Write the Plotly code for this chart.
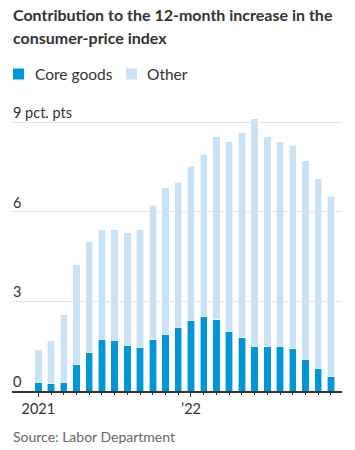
import plotly.graph_objects as go

months = ["2021-01","2021-02","2021-03","2021-04","2021-05","2021-06","2021-07","2021-08",
          "2021-09","2021-10","2021-11","2021-12","2022-01","2022-02","2022-03","2022-04",
          "2022-05","2022-06","2022-07","2022-08","2022-09","2022-10","2022-11","2022-12"]
total = [1.39, 1.69, 2.56, 4.23, 5.01, 5.40, 5.40, 5.30, 5.40, 6.23, 6.82, 7.00,
         7.53, 7.94, 8.53, 8.36, 8.65, 9.13, 8.53, 8.36, 8.23, 7.71, 7.12, 6.53]
core_goods = [0.30, 0.24, 0.30, 0.88, 1.29, 1.74, 1.70, 1.53, 1.47, 1.71, 1.91, 2.14,
              2.37, 2.51, 2.38, 2.01, 1.78, 1.50, 1.48, 1.50, 1.41, 1.07, 0.77, 0.47]
other = [round(t - c, 2) for t, c in zip(total, core_goods)]

x_tick_labels = ["2021", "\u201922"]
y_ticks = [0, 3, 6, 9]
y_tick_labels = ["0", "3", "6", "9 pct. pts"]
series_names = ["Core goods", "Other"]

idx = list(range(len(months)))
CORE = "#0097d9"
OTHER = "#c9e2f6"
FONT = "Lato"
NARROW = "Liberation Sans Narrow, Arial Narrow, Lato"
W, H = 355, 450
L, R, T, B = 12, 13, 101, 59
YMAX = 9.72
PH = H - T - B


def px_x(px):
    return (px - L) / (W - L - R)


def px_y(py):
    return (H - B - py) / PH


fig = go.Figure()
fig.add_trace(go.Bar(x=idx, y=core_goods, name=series_names[0],
                     marker=dict(color=CORE, line=dict(color="white", width=0.6))))
fig.add_trace(go.Bar(x=idx, y=other, name=series_names[1],
                     marker=dict(color=OTHER, line=dict(color="white", width=0.6))))

fig.update_layout(
    width=W, height=H,
    barmode="stack", bargap=0.42,
    paper_bgcolor="white", plot_bgcolor="white",
    margin=dict(l=L, r=R, t=T, b=B, autoexpand=False),
    font=dict(family=FONT, color="#333333"),
    showlegend=False,
)
fig.update_xaxes(
    range=[-2.07, 23.87], tickmode="array", tickvals=[0, 12], ticktext=x_tick_labels,
    ticks="outside", ticklen=4, tickcolor="#333333", tickwidth=1,
    showline=True, linecolor="#333333", linewidth=1.5, showgrid=False,
    tickfont=dict(size=14.5, color="#333333", family=NARROW),
    minor=dict(tickmode="array", tickvals=idx, ticks="outside", ticklen=2.5,
               tickcolor="#333333", tickwidth=1),
    fixedrange=True,
)
fig.update_yaxes(
    range=[0, YMAX], tickmode="array", tickvals=y_ticks, showticklabels=False,
    ticks="", showgrid=True, gridcolor="#e3e3e3", gridwidth=1,
    zeroline=False, showline=False, fixedrange=True,
)

# y tick labels above gridlines
for v, lab in zip(y_ticks, y_tick_labels):
    fig.add_annotation(text=lab, xref="paper", yref="y", x=0, y=v,
                       xanchor="left", yanchor="bottom", showarrow=False, borderpad=0,
                       yshift=0, font=dict(size=14.5, color="#333333", family=NARROW))

# title lines
for text, cy in [("Contribution to the 12-month increase in the", 14.5), ("consumer-price index", 37.5)]:
    fig.add_annotation(text="<b>" + text + "</b>", xref="paper", yref="paper",
                       x=px_x(11), y=px_y(cy), xanchor="left", yanchor="middle",
                       showarrow=False, font=dict(size=16, color="#333333", family=FONT))

# legend
legend_items = [(series_names[0], CORE, 13, 33), (series_names[1], OTHER, 126, 145)]
for name, col, sx, tx in legend_items:
    fig.add_shape(type="rect", xref="paper", yref="paper",
                  x0=px_x(sx), x1=px_x(sx + 11), y0=px_y(79.5), y1=px_y(68.5),
                  fillcolor=col, line=dict(width=0))
    fig.add_annotation(text=name, xref="paper", yref="paper", x=px_x(tx), y=px_y(74),
                       xanchor="left", yanchor="middle", showarrow=False,
                       font=dict(size=15.5, color="#333333", family=FONT))

fig.add_annotation(text="Source: Labor Department", xref="paper", yref="paper",
                   x=px_x(11), y=px_y(436), xanchor="left", yanchor="middle", showarrow=False,
                   font=dict(size=14, color="#666666", family=FONT))

fig.write_html("out.html", config={"displayModeBar": False},
               post_script="document.body.style.margin='0';document.body.style.padding='0';")
